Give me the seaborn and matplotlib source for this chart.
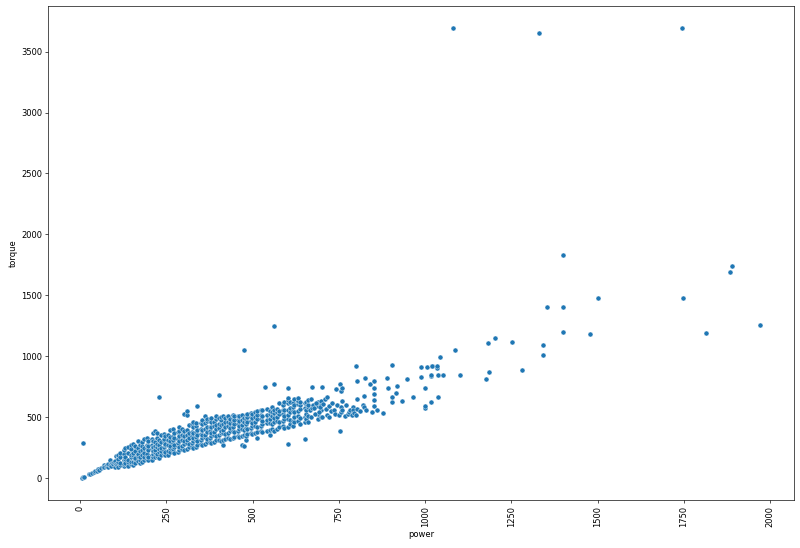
import numpy as np
import pandas as pd
import matplotlib
matplotlib.use("Agg")
import matplotlib.pyplot as plt
import seaborn as sns

###############################################################################
# Data (power vs torque)
###############################################################################
# Small cars, power 0 - 110
small_power  = [5, 8, 12, 8, 25, 29, 35, 40, 44, 48, 53, 55, 60, 65, 68, 70,
                75, 78, 80, 82, 85, 87, 90, 92, 95, 98, 100, 100, 103, 105,
                108, 109]
small_torque = [5, 8, 10, 290, 30, 33, 40, 50, 57, 60, 74, 65, 80, 95, 112, 90,
                100, 105, 95, 120, 110, 153, 100, 125, 115, 130, 90, 140, 180,
                120, 110, 183]

# Dense band: one power value with the torques read above it
band_power = [111, 115, 126, 129, 139, 146, 153, 158, 167, 172, 180, 184,
              194, 198, 207, 211, 218, 224, 229, 233, 242, 247, 255, 261,
              268, 273, 283, 287, 296, 301, 310, 316, 323, 328, 337, 340,
              349, 353, 362, 367, 376, 380, 389, 393, 402, 407, 415, 419,
              428, 433, 442, 447, 457, 461, 470, 476, 481, 485, 494, 499,
              508, 513, 523, 528, 537, 541, 551, 556, 561, 572, 577, 587,
              591, 601, 607, 616, 621, 631, 636, 651, 656, 661, 689, 699]
band_torque = [
    [92, 131, 158, 186], [104, 122, 171, 203], [99, 119, 152, 198, 231],
    [126, 161, 177, 246], [97, 133, 152, 204, 258],
    [117, 129, 172, 191, 236, 271], [109, 136, 188, 207, 282],
    [128, 157, 169, 226, 263], [138, 181, 202, 251, 304],
    [126, 153, 175, 219, 276], [131, 189, 227, 262, 298],
    [152, 171, 203, 246, 321], [158, 183, 196, 251, 274, 326],
    [146, 172, 229, 265, 308], [153, 194, 236, 268, 319],
    [176, 202, 224, 259, 303, 367], [172, 214, 232, 267, 298, 386],
    [184, 197, 253, 281, 327, 371], [168, 211, 238, 274, 309, 663],
    [191, 223, 246, 293, 352], [196, 232, 257, 301, 318, 366],
    [187, 218, 269, 284, 346], [193, 226, 273, 312, 356],
    [211, 247, 264, 306, 339, 393], [219, 242, 291, 314, 348, 401],
    [207, 254, 276, 329, 368], [214, 263, 286, 318, 376],
    [232, 258, 304, 346, 389, 419], [241, 264, 312, 354, 404],
    [229, 278, 301, 342, 391, 528], [236, 288, 311, 352, 397, 520, 553],
    [258, 281, 331, 371, 436], [263, 286, 342, 378, 443],
    [251, 304, 327, 373, 419, 464], [259, 313, 336, 381, 428, 451],
    [273, 302, 358, 394, 592], [281, 309, 366, 402, 453],
    [272, 328, 351, 397, 446, 474], [278, 336, 358, 404, 454, 507],
    [293, 323, 381, 417, 469, 488], [298, 331, 389, 423, 476],
    [291, 349, 371, 418, 457, 496], [296, 356, 377, 424, 463],
    [309, 344, 402, 438, 489, 507], [314, 351, 409, 444, 496, 684],
    [306, 368, 391, 437, 478, 502], [271, 311, 374, 397, 443, 508],
    [324, 362, 422, 457, 491], [331, 368, 428, 462, 498, 513],
    [321, 384, 409, 456, 486], [326, 389, 416, 461, 493, 518],
    [341, 379, 441, 474, 507], [346, 384, 447, 481, 512],
    [337, 401, 428, 473, 506], [271, 343, 406, 434, 478, 516],
    [265, 358, 396, 459, 493, 1049], [312, 348, 413, 441, 485, 521],
    [363, 402, 464, 498, 527], [369, 408, 471, 504, 531],
    [361, 426, 453, 496, 524], [367, 431, 459, 502, 543],
    [326, 381, 421, 483, 515, 548], [387, 427, 489, 521, 556],
    [379, 443, 472, 514, 561], [750], [386, 449, 478, 521, 566],
    [353, 392, 456, 485, 527, 548], [406, 446, 509, 539, 583],
    [390, 462, 491, 534, 558, 772, 1249], [403, 469, 498, 541, 566],
    [421, 459, 523, 553, 619], [428, 466, 529, 561, 603],
    [414, 483, 512, 556, 627],
    [282, 423, 489, 518, 563, 614, 643, 660, 737],
    [443, 481, 546, 577, 622], [429, 472, 553, 584, 617],
    [461, 504, 539, 598, 648], [468, 512, 547, 606, 633, 658],
    [446, 494, 568, 599, 627], [323, 457, 502, 576, 617],
    [484, 527, 561, 621], [463, 511, 583, 604, 638],
    [483, 527, 593, 622], [503, 557, 603, 637]]

# Sparser cars above power ~660
big_power  = [665, 668, 668, 673, 673, 675, 679, 681, 685, 692, 695, 701,
              701, 705, 709, 713, 715, 716, 720, 721, 727, 730, 735, 740,
              742, 745, 750, 752, 753, 755, 755, 755, 758, 760, 760, 767,
              770, 775, 780, 781, 788, 790, 790, 795, 800, 801, 802, 802,
              802, 810, 820, 822, 822, 825, 830, 841, 845, 851, 851, 851,
              851, 851, 860, 877, 889, 891, 903, 904, 905, 915, 919, 932,
              946, 964, 987, 987, 1000, 1001, 1001, 1004, 1016, 1016, 1016,
              1021, 1021, 1034, 1035, 1038, 1038, 1044, 1052, 1087, 1102]
big_torque = [560, 504, 652, 745, 573, 600, 573, 526, 620, 545, 580, 504,
              745, 610, 646, 564, 520, 663, 590, 504, 548, 620, 560, 523,
              734, 600, 520, 386, 772, 542, 586, 717, 742, 630, 560, 512,
              600, 530, 540, 559, 515, 583, 560, 531, 520, 920, 567, 646,
              800, 550, 600, 586, 676, 824, 560, 770, 540, 589, 641, 690,
              737, 800, 560, 531, 824, 737, 627, 926, 663, 701, 756, 633,
              811, 663, 832, 909, 740, 575, 592, 909, 627, 841, 843,
              920, 923, 906, 920, 663, 849, 994, 849, 1054, 849]

# Hypercars and outliers
top_power  = [1177, 1183, 1185, 1203, 1252, 1280, 1342, 1342, 1353, 1400,
              1400, 1400, 1477, 1500, 1747, 1815, 1885, 1890, 1971,
              1080, 1330, 1745]
top_torque = [811, 1107, 868, 1153, 1118, 885, 1010, 1090, 1405, 1200,
              1402, 1832, 1181, 1479, 1479, 1195, 1690, 1740, 1257,
              3690, 3650, 3690]

###############################################################################
# Build the data frame
###############################################################################
power = list(small_power)
torque = list(small_torque)
for p, ts in zip(band_power, band_torque):
    power += [p] * len(ts)
    torque += ts
power += big_power + top_power
torque += big_torque + top_torque

cars = pd.DataFrame({"power": power, "torque": torque})

###############################################################################
# Plot
###############################################################################
fig, ax = plt.subplots(figsize=(800 / 60, 548 / 60), dpi=60)
fig.subplots_adjust(left=0.06, right=0.9925, top=0.989, bottom=0.0876)

sns.scatterplot(x="power", y="torque", data=cars, ax=ax)
plt.xticks(rotation=90)

plt.savefig("out.png", dpi=60)
plt.close()
